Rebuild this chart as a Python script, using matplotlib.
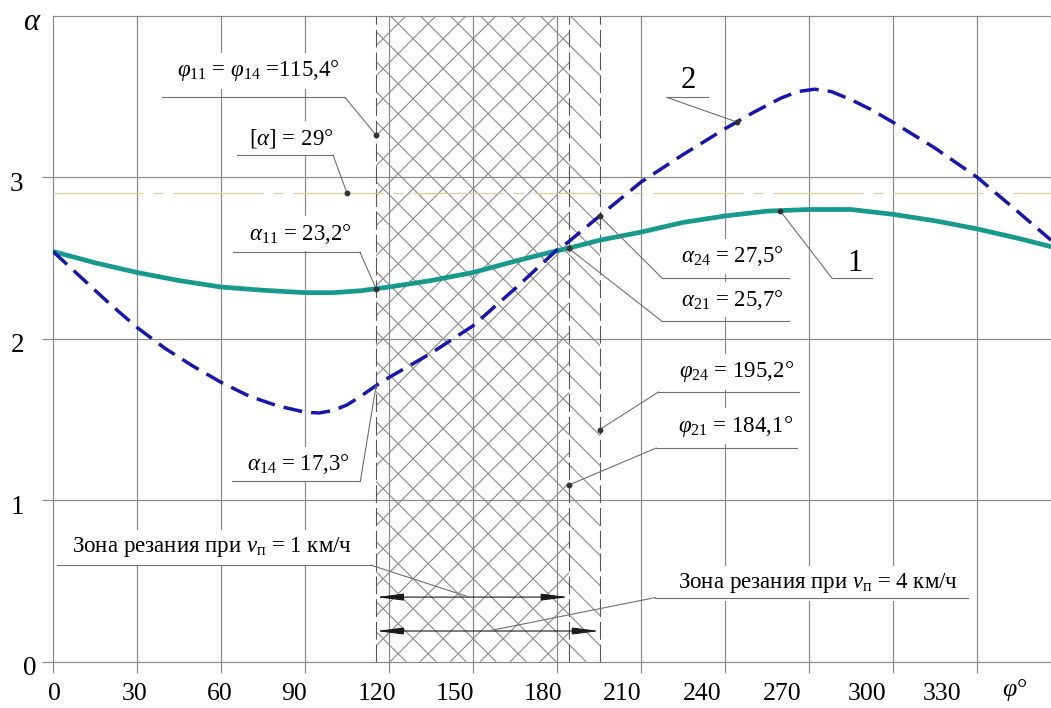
import numpy as np
import matplotlib
matplotlib.use('Agg')
import matplotlib.pyplot as plt
from matplotlib.transforms import offset_copy
from matplotlib.collections import LineCollection
from matplotlib.patches import Rectangle

plt.rcParams['font.family'] = ['Liberation Serif', 'DejaVu Serif']
plt.rcParams['mathtext.fontset'] = 'custom'
plt.rcParams['mathtext.rm'] = 'Liberation Serif'
plt.rcParams['mathtext.it'] = 'Liberation Serif:italic'
plt.rcParams['mathtext.bf'] = 'Liberation Serif:bold'

# ---------------- data ----------------
phi_c1 = [0, 15, 30, 45, 60, 75, 90, 100, 110, 115.4, 120, 135, 150, 165, 180, 184.1,
          195.2, 210, 225, 240, 255, 270, 285, 300, 315, 330, 345, 356.4]
alpha_1 = [2.54, 2.47, 2.41, 2.36, 2.32, 2.30, 2.285, 2.285, 2.297, 2.31, 2.32, 2.36, 2.41,
           2.48, 2.545, 2.56, 2.61, 2.66, 2.72, 2.76, 2.79, 2.80, 2.80, 2.77, 2.73,
           2.68, 2.62, 2.57]
phi_c2 = [0, 10, 20, 30, 40, 50, 60, 70, 80, 90, 95, 100, 105, 110, 115.4, 120, 135, 150,
          165, 180, 184.1, 195.2, 210, 225, 240, 250, 260, 266, 272, 278, 285, 292, 300,
          315, 330, 345, 356.4]
alpha_2 = [2.54, 2.38, 2.22, 2.07, 1.94, 1.83, 1.73, 1.645, 1.585, 1.545, 1.54, 1.555,
           1.59, 1.645, 1.71, 1.76, 1.91, 2.08, 2.31, 2.55, 2.60, 2.76, 2.97, 3.14, 3.30,
           3.40, 3.49, 3.53, 3.545, 3.53, 3.48, 3.42, 3.34, 3.18, 3.00, 2.78, 2.61]
alpha_limit = 2.9          # [alpha] = 29 deg
phi_11 = 115.4             # = phi_14
phi_21 = 184.1
phi_24 = 195.2
zone_v1 = (phi_11, phi_21)
zone_v4 = (phi_11, phi_24)

x_ticks = [0, 30, 60, 90, 120, 150, 180, 210, 240, 270, 300, 330]
x_tick_labels = ['0', '30', '60', '90', '120', '150', '180', '210', '240', '270', '300', '330']
y_ticks = [0, 1, 2, 3]
y_tick_labels = ['0', '1', '2', '3']

# label placement (layout only)
x_label_pos = [0.4, 29.3, 59.6, 86.0, 115.7, 143.6, 175.0, 203.2, 231.8, 260.4, 290.7, 317.5]
y_label_dx = [-23.5, -36, -35, -37]

XMAX, YMAX = 356.4, 4.0

# ---------------- figure ----------------
W, H = 1051, 708
fig = plt.figure(figsize=(W / 100, H / 100), dpi=100)
left_px, right_px, top_px, bot_px = 53, 1051, 15.7, 661.7
ax = fig.add_axes([left_px / W, (H - bot_px) / H, (right_px - left_px) / W, (bot_px - top_px) / H])
ax.set_xlim(0, XMAX)
ax.set_ylim(0, YMAX)
for s in ax.spines.values():
    s.set_visible(False)

GRID = '#8c8c8c'
ax.set_xticks(x_ticks)
ax.set_yticks(y_ticks)
ax.grid(True, color=GRID, lw=0.9, zorder=0)
ax.set_axisbelow(True)
ax.tick_params(length=8, width=0.9, color=GRID, labelbottom=False, labelleft=False)
for ln in ax.get_xgridlines() + ax.get_ygridlines():
    ln.set_clip_on(False)
ax.axhline(YMAX, color=GRID, lw=0.9, zorder=0, clip_on=False)

# tick labels
for xp, lab in zip(x_label_pos, x_tick_labels):
    ax.text(xp, 0, lab, fontsize=18.5, ha='center', va='center',
            transform=offset_copy(ax.transData, fig, x=0, y=-32, units='dots'))
for yv, lab, dx in zip(y_ticks, y_tick_labels, y_label_dx):
    ax.text(0, yv, lab, fontsize=19.5, ha='center', va='center',
            transform=offset_copy(ax.transData, fig, x=dx, y=-7, units='dots'))
fig.text(32 / W, 1 - 22 / H, r'$\alpha$', fontsize=22, ha='center', va='center')
fig.text(1015 / W, 1 - 690 / H, r'$\varphi$°', fontsize=18.5, ha='center', va='center')

# ---------------- hatching ----------------
px_per_deg = (right_px - left_px) / XMAX
px_per_unit = (bot_px - top_px) / YMAX
slope = px_per_deg / px_per_unit        # 45 deg on screen
span = YMAX / slope
step = 30 / px_per_deg                  # 30 px spacing


def hatch(x0, x1, sign):
    rect = Rectangle((x0, 0), x1 - x0, YMAX, transform=ax.transData)
    segs = []
    if sign > 0:
        for c in np.arange(x0 - span, x1 + step, step):
            segs.append([(c, 0), (c + span, YMAX)])
    else:
        for c in np.arange(x0, x1 + span + step, step):
            segs.append([(c, 0), (c - span, YMAX)])
    lc = LineCollection(segs, colors='#8a8a8a', linewidths=0.8, zorder=1)
    ax.add_collection(lc)
    lc.set_clip_path(rect)


hatch(zone_v1[0], zone_v1[1], +1)
hatch(zone_v4[0], zone_v4[1], -1)

for xv in (phi_11, phi_21, phi_24):
    ax.axvline(xv, color='#555555', lw=0.8, dashes=(16, 4.5), zorder=1.5)

ax.axhline(alpha_limit, color='#dccb9f', lw=0.9, dashes=(72, 8, 8, 8), zorder=1.6)

# ---------------- curves ----------------
ax.plot(phi_c1, alpha_1, color='#17998c', lw=3.4, zorder=3, solid_capstyle='round',
        solid_joinstyle='round')
ax.plot(phi_c2, alpha_2, color='#1616b0', lw=2.5, dashes=(5.5, 2.6), zorder=3.1)

# ---------------- zone arrows ----------------
for (x0, x1), yv in ((zone_v1, 0.40), (zone_v4, 0.19)):
    ax.annotate('', xy=(x0, yv), xytext=(x1, yv),
                arrowprops=dict(arrowstyle='<|-|>,head_length=1.1,head_width=0.14',
                                color='#1a1a1a', lw=0.8, shrinkA=0, shrinkB=0,
                                mutation_scale=15), zorder=4)

# ---------------- annotations ----------------
LEAD = '#707070'
notes = [
    # text, text pos, underline (x0, x1, y), slant start ('l'/'r'), target, dot, size
    (r'$\varphi_{11}$ = $\varphi_{14}$ =115,4°', (73.4, 3.66), (38.9, 104.3, 3.494), 'r',
     (phi_11, 3.26), True, 16.5),
    (r'[$\alpha$] = 29°', (85.2, 3.24), (65.7, 100.0, 3.138), 'r',
     (105.0, alpha_limit), True, 16.5),
    (r'$\alpha_{11}$ = 23,2°', (88.2, 2.65), (64.4, 109.6, 2.536), 'r',
     (phi_11, np.interp(phi_11, phi_c1, alpha_1)), True, 16.5),
    (r'$\alpha_{14}$ = 17,3°', (87.5, 1.222), (64.1, 109.75, 1.117), 'r',
     (phi_11, np.interp(phi_11, phi_c2, alpha_2)), False, 16.5),
    (r'$\alpha_{24}$ = 27,5°', (242.7, 2.509), (217.4, 262.9, 2.377), 'l',
     (phi_24, np.interp(phi_24, phi_c2, alpha_2)), True, 16.5),
    (r'$\alpha_{21}$ = 25,7°', (242.7, 2.241), (217.4, 262.9, 2.109), 'l',
     (phi_21, np.interp(phi_21, phi_c1, alpha_1)), True, 16.5),
    ('1', (286.4, 2.466), (278.1, 292.4, 2.377), 'l',
     (259.6, np.interp(259.6, phi_c1, alpha_1)), True, 22),
    ('2', (226.8, 3.597), (219.2, 234.0, 3.494), 'l',
     (244.2, np.interp(244.2, phi_c2, alpha_2)), True, 22),
    (r'$\varphi_{24}$ = 195,2°', (244.1, 1.795), (216.2, 266.5, 1.670), 'l',
     (phi_24, 1.437), True, 16.5),
    (r'$\varphi_{21}$ = 184,1°', (243.8, 1.458), (215.4, 265.6, 1.323), 'l',
     (phi_21, 1.093), True, 16.5),
    (r'Зона резания при $v_{\mathrm{п}}$ = 1 км/ч', (56.6, 0.709), (1.6, 113.5, 0.598), 'r',
     (148.6, 0.40), False, 16.5),
    (r'Зона резания при $v_{\mathrm{п}}$ = 4 км/ч', (273.0, 0.487), (215.0, 326.8, 0.397), 'l',
     (155.4, 0.19), False, 16.5),
]
for txt, (tx, ty), (u0, u1, uy), side, (gx, gy), dot, fs in notes:
    ax.text(tx, ty, txt, fontsize=fs, ha='center', va='center', zorder=4.5,
            bbox=dict(facecolor='white', edgecolor='none', pad=4))
    sx = u1 if side == 'r' else u0
    ax.plot([u0, u1], [uy, uy], color=LEAD, lw=0.8, zorder=5)
    ax.plot([sx, gx], [uy, gy], color=LEAD, lw=0.8, zorder=5)
    if dot:
        ax.plot([gx], [gy], 'o', ms=3.2, color='#333333', zorder=6)

fig.savefig('out.png', dpi=100)
